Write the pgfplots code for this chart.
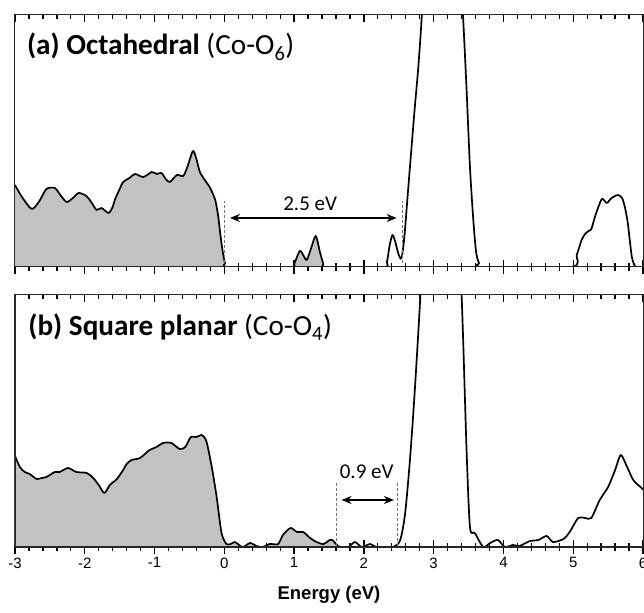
\documentclass[border=0pt]{standalone}
\usepackage{pgfplots}
\pgfplotsset{compat=1.18}
\usepackage{pgfplotstable}
\usepackage{fontspec}
\setmainfont{Carlito}
\newfontfamily\arialfont{Liberation Sans}
\usetikzlibrary{arrows.meta}

% DOS, panel (a): octahedral Co-O6 (arbitrary units, clipped at 252)
\pgfplotstableread{
E v
-3 82
-2.90 70
-2.76 58
-2.65 66
-2.55 78
-2.43 79
-2.35 72
-2.26 65
-2.17 69
-2.09 74
-2.00 72
-1.95 69
-1.89 63
-1.83 57
-1.76 59
-1.66 54
-1.60 60
-1.57 67
-1.50 78
-1.45 85
-1.36 89
-1.28 93
-1.16 90
-1.04 95
-0.97 93
-0.90 94
-0.84 88
-0.78 85
-0.68 92
-0.59 91
-0.53 100
-0.45 116
-0.40 108
-0.35 95
-0.28 87
-0.21 80
-0.17 74
-0.13 67
-0.09 52
-0.06 34
-0.02 14
0.01 4
0.05 0
0.95 0
1.00 3
1.08 16
1.13 12
1.18 7
1.24 18
1.31 31
1.37 15
1.42 3
1.46 0
2.28 0
2.33 5
2.37 22
2.41 32
2.45 25
2.50 12
2.54 9
2.58 30
2.62 65
2.66 100
2.73 160
2.78 200
2.83 252
2.88 330
2.95 400
3.10 450
3.25 430
3.35 340
3.42 252
3.47 180
3.52 100
3.57 45
3.61 14
3.65 4
3.69 0
4.97 0
5.05 12
5.12 27
5.17 33
5.22 36
5.26 38
5.32 52
5.41 68
5.48 64
5.55 69
5.64 72
5.70 69
5.74 60
5.78 45
5.81 27
5.84 10
5.87 3
5.90 0
6.0 0
}\dosa

% DOS, panel (b): square planar Co-O4
\pgfplotstableread{
E v
-3 91
-2.93 80
-2.86 75
-2.79 73
-2.69 68
-2.62 69
-2.55 70
-2.43 75
-2.36 75
-2.24 79
-2.12 75
-1.97 74
-1.88 69
-1.80 62
-1.72 54
-1.64 62
-1.54 68
-1.45 77
-1.40 83
-1.33 87
-1.21 89
-1.07 97
-0.97 100
-0.88 104
-0.76 104
-0.64 98
-0.56 100
-0.48 110
-0.40 110
-0.33 112
-0.29 110
-0.25 104
-0.18 80
-0.11 50
-0.04 14
0.03 3
0.09 3
0.15 5
0.21 2
0.27 0
0.37 4
0.46 1
0.55 0
0.65 3
0.77 3
0.84 12
0.95 19
1.04 15
1.13 15
1.23 9
1.32 5
1.42 3
1.51 7
1.55 7
1.60 3
1.66 0
1.78 0
1.87 5
1.97 0
2.09 3
2.18 0
2.42 0
2.52 7
2.59 33
2.66 87
2.73 157
2.81 252
2.90 380
3.10 450
3.30 380
3.40 252
3.47 100
3.52 20
3.59 14
3.71 0
3.81 4
3.92 7
4.02 0
4.14 2
4.23 1
4.38 6
4.50 7
4.62 11
4.71 5
4.86 8
4.95 15
5.07 29
5.17 29
5.26 29
5.38 47
5.50 60
5.60 77
5.68 92
5.76 82
5.86 67
5.98 59
6.0 57
}\dosb

\pgfplotsset{
  dospanel/.style={scale only axis, width=628pt, height=252pt,
    xmin=-3, xmax=6, ymin=0, ymax=252, ytick=\empty,
    xtick={-3,...,6}, minor x tick num=4,
    axis line style={black!85, line width=1pt},
    major tick length=7pt, minor tick length=4pt,
    tick style={black, line width=1.3pt}},
  % plots live here; ticks inside on top (and bottom)
  mainpanel/.style={dospanel, xtick pos=both, tick align=inside, xticklabels={}},
  % outward ticks under the bottom edge
  outticks/.style={dospanel, xtick pos=left, tick align=outside},
}
\tikzset{
  occ/.style={draw=none, fill=black!24, smooth, tension=0.45},
  dos/.style={black, line width=1.7pt, smooth, tension=0.45, line join=round},
  gap/.style={densely dashed, black!55, line width=0.7pt},
  gaparrow/.style={{Stealth[length=10pt,width=8pt]}-{Stealth[length=10pt,width=8pt]}, line width=1.3pt},
  panellabel/.style={anchor=base west, inner sep=0pt, font=\fontsize{29.2}{29.2}\selectfont},
}

\begin{document}
\begin{tikzpicture}
% panel (a)
\begin{axis}[mainpanel, at={(0,280pt)}]
  \addplot[occ, restrict x to domain=-3:1.46] table[x=E, y=v] {\dosa} \closedcycle;
  \addplot[dos] table[x=E, y=v] {\dosa};
  \draw[gap] (axis cs:0,4) -- (axis cs:0,66);
  \draw[gap] (axis cs:2.55,4) -- (axis cs:2.55,66);
  \draw[gaparrow] (axis cs:0.08,49) -- (axis cs:2.47,49);
  \node[font=\fontsize{21}{21}\selectfont] at (axis cs:1.23,63) {2.5 eV};
  \node[panellabel] at (axis cs:-2.83,212)
    {\textbf{(a) Octahedral} (Co-O\textsubscript{6})};
\end{axis}
\begin{axis}[outticks, at={(0,280pt)}, xticklabels={}]
  \addplot[draw=none, forget plot] table[x=E, y=v] {\dosa};
\end{axis}

% panel (b)
\begin{axis}[mainpanel, at={(0,0)}]
  \addplot[occ, restrict x to domain=-3:1.66] table[x=E, y=v] {\dosb} \closedcycle;
  \addplot[dos] table[x=E, y=v] {\dosb};
  \draw[gap] (axis cs:1.6,1) -- (axis cs:1.6,64);
  \draw[gap] (axis cs:2.48,1) -- (axis cs:2.48,64);
  \draw[gaparrow] (axis cs:1.68,47) -- (axis cs:2.43,47);
  \node[font=\fontsize{21}{21}\selectfont] at (axis cs:2.04,75) {0.9 eV};
  \node[panellabel] at (axis cs:-2.81,211)
    {\textbf{(b) Square planar} (Co-O\textsubscript{4})};
\end{axis}
\begin{axis}[outticks, at={(0,0)},
    xticklabels={-3,-2,-1,0,1,2,3,4,5,6},
    xticklabel style={font=\arialfont\fontsize{15}{15}\selectfont},
    xlabel={\arialfont\bfseries\fontsize{18.5}{18.5}\selectfont Energy (eV)},
    xlabel style={at={(axis description cs:0.5,-0.19)}, anchor=center}]
  \addplot[draw=none, forget plot] table[x=E, y=v] {\dosb};
\end{axis}

\pgfresetboundingbox
\path[use as bounding box] (-15pt,-65pt) rectangle (629pt,547pt);
\end{tikzpicture}
\end{document}
